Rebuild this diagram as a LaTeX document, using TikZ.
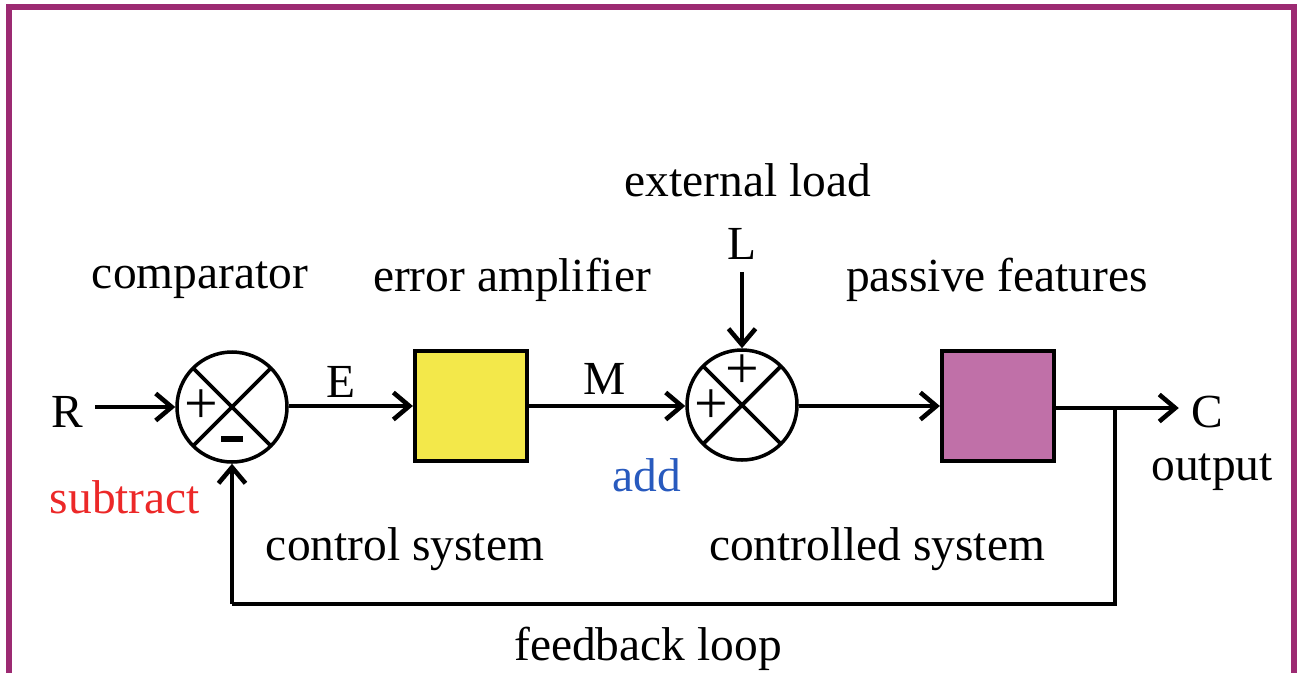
\documentclass[tikz,border=0pt]{standalone}
\usepackage{fontspec}
\setmainfont{Liberation Serif}
\usetikzlibrary{positioning}
\usetikzlibrary{arrows.meta}

\definecolor{framepurple}{RGB}{156,42,114}
\definecolor{ampyellow}{RGB}{243,232,74}
\definecolor{plantpink}{RGB}{192,112,168}
\definecolor{subred}{RGB}{236,40,40}
\definecolor{addblue}{RGB}{40,90,190}

\begin{document}
\begin{tikzpicture}[x=0.1mm,y=-0.1mm,
      every node/.style={font=\fontsize{13.5}{16}\selectfont},
      sig/.style={line width=1.3pt,-{Straight Barb[length=1.6mm,width=2.7mm,line width=1.3pt]}},
      wire/.style={line width=1.3pt},
      sign/.style={font=\fontsize{17}{18}\selectfont},
      block/.style={draw,line width=1.2pt,minimum width=11.2mm,minimum height=11mm},
      junction/.style={draw,circle,line width=1pt,minimum size=11mm,inner sep=0pt,
        path picture={\draw[line width=1.1pt]
          (path picture bounding box.north west) -- (path picture bounding box.south east)
          (path picture bounding box.north east) -- (path picture bounding box.south west);}}]
    \useasboundingbox (0,0) rectangle (1299,672);
    \clip (0,0) rectangle (1299,672);
    \draw[framepurple,line width=0.6mm] (9,7) rectangle (1294,720);

    % main loop
    \node (R) at (67,412) {R};
    \node[junction] (cmp) at (232,407) {};
    \node[block,fill=ampyellow] (amp) at (471,406) {};
    \node[junction] (add) at (742,405) {};
    \node[block,fill=plantpink] (plant) at (998,406) {};
    \node (C) at (1207,412) {C};
    \node (L) at (742,244) {L};
    \coordinate (tap) at (1115,408);
    \coordinate (fbR) at (1115,604);
    \coordinate (fbL) at (232,604);

    % signs
    \node[sign] at (201,407) {+};
    \node[draw,fill,inner sep=0pt,minimum width=2mm,minimum height=0.45mm] at (232,439) {};
    \node[sign] at (742,372) {+};
    \node[sign] at (711,407) {+};

    \draw[sig] (R.east |- cmp) -- (cmp.west);
    \draw[sig] (cmp.east |- amp) -- (amp.west);
    \draw[sig] (amp.east) -- (add.west |- amp);
    \draw[sig] (L) -- (add.north);
    \draw[sig] (add.east |- plant) -- (plant.west);
    \draw[sig] (plant.east |- tap) -- (C.west |- tap);
    \draw[wire] (tap) -- (fbR) -- (fbL);
    \draw[sig] (fbL) -- (cmp.south);

    % labels
    \node (cmplbl) at (200,280) {comparator};
    \node (amplbl) at (512,280) {error amplifier};
    \node (extlbl) at (748,180) {external load};
    \node (pltlbl) at (997,280) {passive features};
    \node (E) at (341,382) {E};
    \node (M) at (605,379) {M};
    \node[text=subred] (sub) at (125,497) {subtract};
    \node[text=addblue] (addlbl) at (647,475) {add};
    \node (out) at (1212,472) {output};
    \node (ctl) at (405,549) {control system};
    \node (ctld) at (877,549) {controlled system};
    \node (fb) at (648,649) {feedback loop};
  \end{tikzpicture}
\end{document}
